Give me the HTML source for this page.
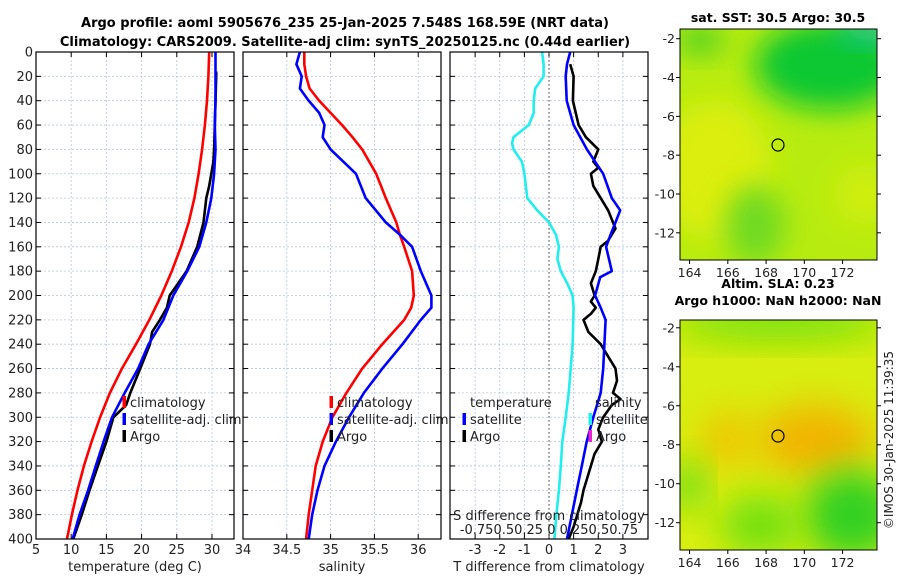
<!DOCTYPE html>
<html><head><meta charset="utf-8"><style>
html,body{margin:0;padding:0;background:#fff;}
svg{display:block;font-family:"DejaVu Sans","Liberation Sans",sans-serif;}
</style></head><body>
<svg id="chart" width="900" height="580" viewBox="0 0 900 580">
<defs>
<filter id="blur1" x="-50%" y="-50%" width="200%" height="200%"><feGaussianBlur stdDeviation="14"/></filter>
<filter id="blur2" x="-50%" y="-50%" width="200%" height="200%"><feGaussianBlur stdDeviation="18"/></filter>
<clipPath id="cm1"><rect x="680" y="29" width="197" height="231"/></clipPath>
<clipPath id="cm2"><rect x="680" y="320" width="197" height="230"/></clipPath>
</defs>
<text x="345" y="27" text-anchor="middle" font-size="13" font-weight="bold">Argo profile: aoml 5905676_235 25-Jan-2025 7.548S 168.59E (NRT data)</text>
<text x="345" y="46" text-anchor="middle" font-size="13" font-weight="bold">Climatology: CARS2009. Satellite-adj clim: synTS_20250125.nc (0.44d earlier)</text>

<g id="maps">
<g clip-path="url(#cm1)">
<rect x="680" y="29" width="197" height="231" fill="#b8ec10"/>
<ellipse cx="715" cy="170" rx="55" ry="70" fill="#dcee10" filter="url(#blur1)"/>
<ellipse cx="865" cy="195" rx="30" ry="30" fill="#d0ee10" filter="url(#blur1)"/>
<ellipse cx="755" cy="225" rx="30" ry="40" fill="#70da20" filter="url(#blur1)"/>
<ellipse cx="830" cy="65" rx="75" ry="45" fill="#10c830" filter="url(#blur1)"/>
<ellipse cx="700" cy="40" rx="25" ry="15" fill="#50d020" filter="url(#blur1)"/>
<ellipse cx="872" cy="30" rx="35" ry="12" fill="#10c0a0" filter="url(#blur1)"/>
</g>
<rect x="680" y="29" width="197" height="231" fill="none" stroke="#000" stroke-width="1"/>
<circle cx="778" cy="145" r="6" fill="none" stroke="#000" stroke-width="1.2"/>
<g clip-path="url(#cm2)">
<rect x="680" y="320" width="197" height="230" fill="#d8ee10"/>
<ellipse cx="780" cy="322" rx="110" ry="18" fill="#70e010" filter="url(#blur2)"/>
<ellipse cx="815" cy="440" rx="60" ry="35" fill="#f2b400" filter="url(#blur2)"/>
<ellipse cx="728" cy="440" rx="28" ry="28" fill="#f0c400" filter="url(#blur2)"/>
<ellipse cx="852" cy="515" rx="48" ry="45" fill="#30d020" filter="url(#blur2)"/>
<ellipse cx="760" cy="525" rx="40" ry="30" fill="#70e010" filter="url(#blur2)"/>
<ellipse cx="688" cy="485" rx="15" ry="25" fill="#50d818" filter="url(#blur2)"/>
</g>
<rect x="680" y="320" width="197" height="230" fill="none" stroke="#000" stroke-width="1"/>
<circle cx="778" cy="436" r="6" fill="none" stroke="#000" stroke-width="1.2"/>
<text x="778" y="22" text-anchor="middle" font-size="12.5" font-weight="bold">sat. SST: 30.5 Argo: 30.5</text>
<text x="778" y="288" text-anchor="middle" font-size="12.5" font-weight="bold">Altim. SLA: 0.23</text>
<text x="778" y="305" text-anchor="middle" font-size="12.5" font-weight="bold">Argo h1000: NaN h2000: NaN</text>
<text transform="translate(893,440) rotate(-90)" text-anchor="middle" font-size="12" fill="#222">©IMOS 30-Jan-2025 11:39:35</text>
</g>
</svg>
<script>
// ---------- data ----------
const depths=[0,20,40,60,80,100,120,140,160,180,200,220,240,260,280,300,320,340,360,380,400];
const tempClim=[29.6,29.5,29.3,29.0,28.6,28.1,27.5,26.7,25.6,24.3,22.8,21.1,19.2,17.2,15.5,14.1,12.9,11.8,10.9,10.1,9.4];
const tempSat=[30.5,30.5,30.5,30.4,30.5,30.3,29.9,29.2,28.2,26.5,24.5,23.1,21.0,19.5,17.6,15.8,14.6,13.5,12.4,11.2,10.2];
const argoDepths=[16,20,40,60,80,90,100,110,120,130,140,160,180,200,210,220,230,240,260,280,290,300,320,340,360,380,400];
const tempArgo=[30.6,30.6,30.5,30.4,30.3,30.2,29.9,29.6,29.2,29.0,28.8,27.9,26.4,24.0,23.6,22.6,21.5,21.2,19.8,18.4,17.8,16.0,15.0,13.8,12.6,11.5,10.3];
const salDepths=[0,10,20,30,40,50,60,70,80,100,120,140,150,160,180,200,210,220,240,260,280,300,320,340,360,380,400];
const salClim=[34.70,34.70,34.72,34.76,34.87,35.0,35.13,35.25,35.36,35.52,35.63,35.75,35.79,35.84,35.93,35.95,35.92,35.84,35.59,35.36,35.18,35.02,34.91,34.83,34.79,34.75,34.72];
const salSat=[34.65,34.61,34.67,34.65,34.75,34.87,34.93,34.91,35.0,35.29,35.40,35.63,35.79,35.93,36.03,36.15,36.15,36.03,35.82,35.59,35.38,35.21,35.06,34.93,34.85,34.79,34.75];
const dDepthSat=[0,10,20,40,60,80,100,120,130,140,150,160,180,185,200,210,220,240,260,280,300,320,340,360,380,400];
const dTempSat=[0.86,0.73,0.68,0.72,1.0,1.54,2.2,2.55,2.89,2.7,2.5,2.32,2.55,2.08,1.87,2.1,2.3,2.25,2.2,2.1,1.8,1.53,1.33,1.13,0.93,0.73];
const dDepthArgo=[10,20,40,60,70,80,90,95,100,110,120,130,140,145,150,155,160,170,180,190,200,205,210,215,220,230,240,250,260,270,280,285,290,300,310,320,330,340,350,360,370,380,390,400];
const dTempArgo=[0.86,1.0,0.97,1.2,1.5,2.0,1.8,2.0,1.7,1.8,2.1,2.4,2.6,2.7,2.55,2.4,2.1,2.0,1.9,1.7,1.85,1.7,1.9,1.7,1.4,1.6,2.1,2.4,2.7,2.76,2.6,2.9,2.55,2.2,2.0,2.15,1.85,1.7,1.55,1.4,1.3,1.15,1.0,0.8];
const dDepthSalSat=[0,10,20,30,40,50,60,70,75,80,90,100,120,130,140,150,160,170,180,190,200,210,240,260,280,300,320,340,360,380,400];
const dSalSat=[-0.07,-0.055,-0.055,-0.14,-0.155,-0.155,-0.205,-0.36,-0.375,-0.36,-0.275,-0.25,-0.22,-0.12,0,0.07,0.1,0.085,0.12,0.185,0.24,0.25,0.24,0.22,0.2,0.17,0.135,0.12,0.1,0.075,0.055];
const depthTicks=[0,20,40,60,80,100,120,140,160,180,200,220,240,260,280,300,320,340,360,380,400];
const tempTicks=[5,10,15,20,25,30];
const salTicks=[34,34.5,35,35.5,36];
const salTickLabels=["34","34.5","35","35.5","36"];
const dTicks=[-3,-2,-1,0,1,2,3];
const lonTicks=[164,166,168,170,172];
const latTicks=[-2,-4,-6,-8,-10,-12];

// ---------- helpers ----------
const svg=document.getElementById('chart');
const NS='http://www.w3.org/2000/svg';
function mk(tag,attrs,parent){const e=document.createElementNS(NS,tag);for(const k in attrs)e.setAttribute(k,attrs[k]);(parent||svg).appendChild(e);return e;}
const top0=52,bot0=539;
const yD=d=>top0+(d/400)*(bot0-top0);
function makeX(x0,x1,v0,v1){return v=>x0+(v-v0)/(v1-v0)*(x1-x0);}

function panel(name,x0,x1,xs,xTicks,xLabels,xTitle,showY){
  const g=mk('g',{});
  
  
  mk('rect',{x:x0,y:top0,width:x1-x0,height:bot0-top0,fill:'#fff'},g);
  depthTicks.forEach(d=>{
    const l=mk('line',{x1:x0,x2:x1,y1:yD(d),y2:yD(d),stroke:'#b8c4dc','stroke-width':0.8,'stroke-dasharray':'2,2'},g);
    
    
    mk('line',{x1:x0,x2:x0+5,y1:yD(d),y2:yD(d),stroke:'#000','stroke-width':1},g);
    mk('line',{x1:x1-5,x2:x1,y1:yD(d),y2:yD(d),stroke:'#000','stroke-width':1},g);
    if(showY){const t=mk('text',{x:x0-3,y:yD(d)+4.5,'text-anchor':'end','font-size':13,fill:'#222'},g);t.textContent=d;
      
      }
  });
  xTicks.forEach((v,i)=>{
    const x=xs(v);
    if(x>x0+1&&x<x1-1){const l=mk('line',{x1:x,x2:x,y1:top0,y2:bot0,stroke:'#b8c4dc','stroke-width':0.8,'stroke-dasharray':'2,2'},g);
      
      }
    mk('line',{x1:x,x2:x,y1:bot0-5,y2:bot0,stroke:'#000'},g);
    mk('line',{x1:x,x2:x,y1:top0,y2:top0+5,stroke:'#000'},g);
    const t=mk('text',{x:x,y:554,'text-anchor':'middle','font-size':13,fill:'#222'},g);t.textContent=xLabels[i];
    
    
  });
  const tt=mk('text',{x:(x0+x1)/2,y:571,'text-anchor':'middle','font-size':13,fill:'#222'},g);tt.textContent=xTitle;
  
  
  return g;
}
function line(g,name,xs,vals,ds,color){
  const p=mk('path',{d:vals.map((v,i)=>(i?'L':'M')+xs(v).toFixed(1)+','+yD(ds[i]).toFixed(1)).join(''),fill:'none',stroke:color,'stroke-width':2.6,'stroke-linejoin':'round'},g);
  
  
}
function frame(g,x0,x1){mk('rect',{x:x0,y:top0,width:x1-x0,height:bot0-top0,fill:'none',stroke:'#000','stroke-width':1.2},g);}
function legend(g,name,x,y,color,label){
  const r=mk('rect',{x:x-1.5,y:y-10,width:3.5,height:12,fill:color},g);
  
  
  const t=mk('text',{x:x+6,y:y+1,'font-size':13,fill:'#222'},g);t.textContent=label;
  
  
}

// ---------- panel 1 ----------
const xT=makeX(36,234,5,33.13);
const g1=panel('temperature-panel',36,234,xT,tempTicks,tempTicks.map(String),'temperature (deg C)',true);
line(g1,'temp-climatology-line',xT,tempClim,depths,'#ff0000');
line(g1,'temp-argo-line',xT,tempArgo,argoDepths,'#000');
line(g1,'temp-satellite-line',xT,tempSat,depths,'#0000ff');
frame(g1,36,234);
legend(g1,'legend-climatology',124,406,'#ff0000','climatology');
legend(g1,'legend-satellite-adj',124,423,'#0000ff','satellite-adj. clim');
legend(g1,'legend-argo',124,440,'#000','Argo');

// ---------- panel 2 ----------
const xS=makeX(243,441,34,36.26);
const g2=panel('salinity-panel',243,441,xS,salTicks,salTickLabels,'salinity',false);
line(g2,'sal-climatology-line',xS,salClim,salDepths,'#ff0000');
line(g2,'sal-satellite-line',xS,salSat,salDepths,'#0000ff');
frame(g2,243,441);
legend(g2,'legend-climatology-sal',331,406,'#ff0000','climatology');
legend(g2,'legend-satellite-adj-sal',331,423,'#0000ff','satellite-adj. clim');
legend(g2,'legend-argo-sal',331,440,'#000','Argo');

// ---------- panel 3 ----------
const xDT=makeX(450,648,-4.02,4.02);
const sToT=4;
const g3=panel('difference-panel',450,648,xDT,dTicks,dTicks.map(String),'T difference from climatology',false);
const zl=mk('line',{x1:xDT(0),x2:xDT(0),y1:top0,y2:bot0,stroke:'#444','stroke-width':1,'stroke-dasharray':'1.5,2.5'},g3);


line(g3,'sal-diff-satellite-line',xDT,dSalSat.map(v=>v*sToT),dDepthSalSat,'#22eeee');
line(g3,'temp-diff-argo-line',xDT,dTempArgo,dDepthArgo,'#000');
line(g3,'temp-diff-satellite-line',xDT,dTempSat,dDepthSat,'#0000ff');
frame(g3,450,648);
let t3=mk('text',{x:470,y:407,'font-size':13,fill:'#222'},g3);t3.textContent='temperature';


t3=mk('text',{x:595,y:407,'font-size':13,fill:'#222'},g3);t3.textContent='salinity';


legend(g3,'legend-temp-satellite',464,423,'#0000ff','satellite');
legend(g3,'legend-temp-argo',464,440,'#000','Argo');
legend(g3,'legend-sal-satellite',590,423,'#22eeee','satellite');
legend(g3,'legend-sal-argo',590,440,'#ee22cc','Argo');
t3=mk('text',{x:549,y:520,'text-anchor':'middle','font-size':13,fill:'#222'},g3);t3.textContent='S difference from climatology';


t3=mk('text',{x:549,y:534,'text-anchor':'middle','font-size':13,fill:'#222'},g3);t3.textContent='-0.750.50.25 0 0.250.50.75';



// ---------- map axes ----------
function mapAxes(name,x0,x1,y0,y1,lon0,lon1,lat0,lat1){
  const g=mk('g',{});
  
  
  const xm=makeX(x0,x1,lon0,lon1);
  const ym=v=>y0+(lat0-v)/(lat0-lat1)*(y1-y0);
  lonTicks.forEach(v=>{
    mk('line',{x1:xm(v),x2:xm(v),y1:y1,y2:y1+4,stroke:'#000'},g);
    const t=mk('text',{x:xm(v),y:y1+17,'text-anchor':'middle','font-size':12.5,fill:'#222'},g);t.textContent=v;
    
    
  });
  latTicks.forEach(v=>{
    mk('line',{x1:x0-4,x2:x0,y1:ym(v),y2:ym(v),stroke:'#000'},g);
    mk('line',{x1:x1,x2:x1+4,y1:ym(v),y2:ym(v),stroke:'#000'},g);
    const t=mk('text',{x:x0-5,y:ym(v)+4.5,'text-anchor':'end','font-size':12.5,fill:'#222'},g);t.textContent=v;
    
    
  });
}
mapAxes('sst-map-axes',680,877,29,260,163.5,173.8,-1.5,-13.4);
mapAxes('sla-map-axes',680,877,320,550,163.5,173.8,-1.6,-13.4);
</script>
</body></html>
